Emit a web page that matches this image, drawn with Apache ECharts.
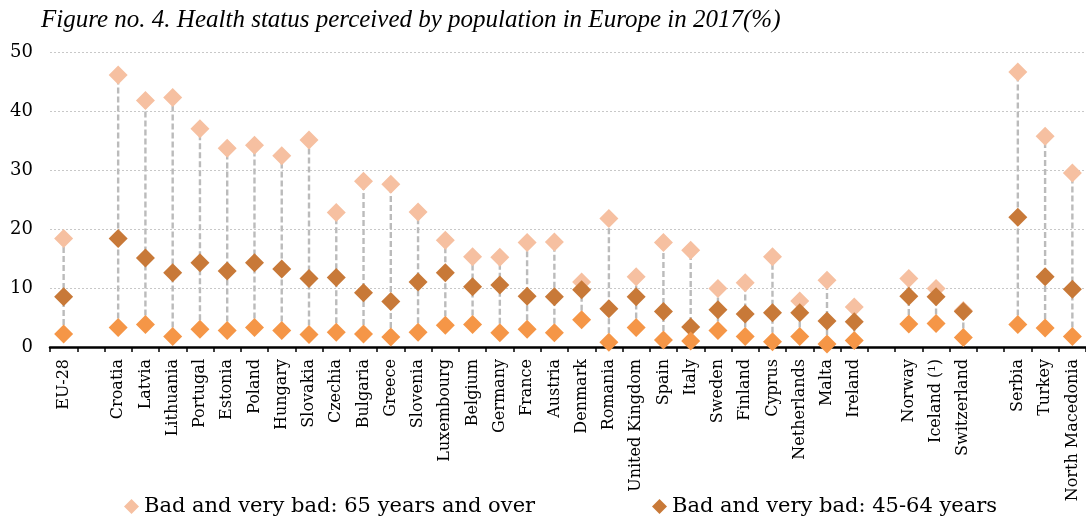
<!DOCTYPE html>
<html>
<head>
<meta charset="utf-8">
<script src="https://cdn.jsdelivr.net/npm/echarts@6/dist/echarts.min.js"></script>
<style>
  html, body { margin: 0; padding: 0; background: #fff; }
  #chart { width: 1086px; height: 521px; }
</style>
</head>
<body>
<div id="chart"></div>
<script>
// Countries along the axis; empty names leave a blank slot between groups.
const categories = [
  'EU-28', '',
  'Croatia', 'Latvia', 'Lithuania', 'Portugal', 'Estonia', 'Poland', 'Hungary', 'Slovakia',
  'Czechia', 'Bulgaria', 'Greece', 'Slovenia', 'Luxembourg', 'Belgium', 'Germany', 'France',
  'Austria', 'Denmark', 'Romania', 'United Kingdom', 'Spain', 'Italy', 'Sweden', 'Finland',
  'Cyprus', 'Netherlands', 'Malta', 'Ireland', '',
  'Norway', 'Iceland (\u00B9)', 'Switzerland', '',
  'Serbia', 'Turkey', 'North Macedonia'
];

// Share (%) reporting bad or very bad health, 65 years and over
const age65plus = [
  18.4, null,
  46.1, 41.8, 42.3, 37.0, 33.7, 34.2, 32.4, 35.1,
  22.8, 28.1, 27.6, 22.9, 18.1, 15.3, 15.2, 17.7,
  17.8, 11.0, 21.8, 11.9, 17.7, 16.4, 9.9, 10.9,
  15.3, 7.8, 11.3, 6.8, null,
  11.6, 9.9, 6.2, null,
  46.6, 35.7, 29.5
];

// Share (%) reporting bad or very bad health, 45-64 years
const age45to64 = [
  8.5, null,
  18.4, 15.1, 12.6, 14.3, 12.9, 14.3, 13.2, 11.6,
  11.8, 9.2, 7.7, 11.0, 12.6, 10.2, 10.5, 8.6,
  8.5, 9.7, 6.5, 8.5, 6.0, 3.4, 6.3, 5.6,
  5.8, 5.8, 4.4, 4.3, null,
  8.6, 8.5, 6.0, null,
  22.0, 11.9, 9.8
];

// Share (%) reporting bad or very bad health, younger adults
const ageYounger = [
  2.2, null,
  3.3, 3.8, 1.8, 3.0, 2.8, 3.3, 2.8, 2.1,
  2.5, 2.2, 1.7, 2.5, 3.7, 3.8, 2.4, 3.0,
  2.4, 4.6, 0.8, 3.3, 1.2, 1.0, 2.8, 1.8,
  0.9, 1.8, 0.5, 1.1, null,
  3.9, 4.0, 1.6, null,
  3.8, 3.2, 1.8
];

const yTicks = [0, 10, 20, 30, 40, 50];

const COLOR_65 = '#F6C0A1';
const COLOR_45 = '#C87938';
const COLOR_YOUNG = '#F59647';

// Range per country: lowest to highest value, joined by a dashed line
const ranges = categories.map((c, i) => {
  const vals = [age65plus[i], age45to64[i], ageYounger[i]].filter(v => v != null);
  return vals.length ? [i, Math.min(...vals), Math.max(...vals)] : [i, null, null];
}).filter(r => r[1] != null);

const chart = echarts.init(document.getElementById('chart'), null, { renderer: 'canvas' });

const markerSize = 19;
const legendText = { fontFamily: 'DejaVu Serif', fontSize: 21, color: '#000' };

chart.setOption({
  animation: false,
  backgroundColor: '#ffffff',
  title: {
    text: 'Figure no. 4. Health status perceived by population in Europe in 2017(%)',
    left: 36,
    top: 3,
    textStyle: {
      fontFamily: 'Liberation Serif',
      fontStyle: 'italic',
      fontWeight: 'normal',
      fontSize: 25,
      color: '#000'
    }
  },
  legend: [
    {
      data: ['Bad and very bad: 65 years and over'],
      left: 119,
      top: 491,
      icon: 'diamond',
      itemWidth: 15,
      itemHeight: 15,
      textStyle: legendText
    },
    {
      data: ['Bad and very bad: 45-64 years'],
      left: 647,
      top: 491,
      icon: 'diamond',
      itemWidth: 15,
      itemHeight: 15,
      textStyle: legendText
    }
  ],
  grid: {
    left: 50,
    top: 52,
    width: 1037.4,
    height: 295,
    containLabel: false
  },
  xAxis: {
    type: 'category',
    data: categories,
    boundaryGap: true,
    axisLine: { show: true, lineStyle: { color: '#000', width: 2.5 } },
    axisTick: { show: true, alignWithLabel: false, interval: 0, length: 5, lineStyle: { color: '#000', width: 1.5 } },
    axisLabel: {
      interval: 0,
      rotate: 90,
      margin: 12,
      fontFamily: 'DejaVu Serif',
      fontSize: 16,
      color: '#000'
    },
    splitLine: { show: false }
  },
  yAxis: {
    type: 'value',
    min: yTicks[0],
    max: yTicks[yTicks.length - 1],
    interval: 10,
    axisLine: { show: false },
    axisTick: { show: false },
    axisLabel: {
      margin: 17,
      fontFamily: 'DejaVu Serif',
      fontSize: 18,
      color: '#000'
    },
    splitLine: { show: true, lineStyle: { color: '#C8C8C8', width: 1, type: [2, 2] } }
  },
  series: [
    {
      name: 'range',
      type: 'custom',
      z: 1,
      silent: true,
      data: ranges,
      encode: { x: 0, y: [1, 2] },
      renderItem: function (params, api) {
        const lo = api.coord([api.value(0), api.value(1)]);
        const hi = api.coord([api.value(0), api.value(2)]);
        return {
          type: 'line',
          shape: { x1: lo[0], y1: lo[1], x2: hi[0], y2: hi[1] },
          style: { stroke: '#BBBBBB', lineWidth: 2.4, lineDash: [6, 3] }
        };
      }
    },
    {
      name: 'Bad and very bad: 65 years and over',
      type: 'scatter',
      z: 3,
      symbol: 'diamond',
      symbolSize: markerSize,
      itemStyle: { color: COLOR_65, opacity: 1 },
      data: age65plus
    },
    {
      name: 'Bad and very bad: 45-64 years',
      type: 'scatter',
      z: 4,
      symbol: 'diamond',
      symbolSize: markerSize,
      itemStyle: { color: COLOR_45, opacity: 1 },
      data: age45to64
    },
    {
      name: 'Bad and very bad: 16-44 years',
      type: 'scatter',
      z: 5,
      symbol: 'diamond',
      symbolSize: markerSize,
      itemStyle: { color: COLOR_YOUNG, opacity: 1 },
      data: ageYounger
    }
  ]
});
</script>
</body>
</html>
